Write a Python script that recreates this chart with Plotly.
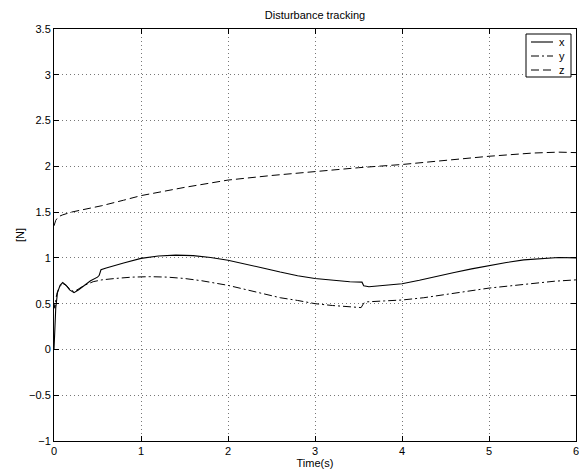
import plotly.graph_objects as go

# ---- data ----
t_x = [0, 0.01, 0.02, 0.04, 0.07, 0.1, 0.14, 0.18, 0.23, 0.28, 0.35, 0.42, 0.5, 0.52, 0.54,
       0.6, 0.8, 1.0, 1.2, 1.4, 1.6, 1.8, 2.0, 2.2, 2.4, 2.6, 2.8, 3.0, 3.2, 3.4, 3.54,
       3.56, 3.62, 3.8, 4.0, 4.2, 4.4, 4.6, 4.8, 5.0, 5.2, 5.4, 5.6, 5.8, 6.0]
x_vals = [0.0, 0.2, 0.45, 0.62, 0.7, 0.73, 0.7, 0.65, 0.62, 0.65, 0.7, 0.75, 0.79, 0.81, 0.87,
          0.89, 0.945, 0.995, 1.02, 1.03, 1.025, 1.005, 0.975, 0.935, 0.89, 0.845, 0.805, 0.775, 0.755, 0.74, 0.735,
          0.695, 0.685, 0.7, 0.717, 0.755, 0.8, 0.84, 0.88, 0.917, 0.95, 0.978, 0.995, 1.005, 1.0]

t_y = [0, 0.01, 0.03, 0.06, 0.1, 0.14, 0.18, 0.23, 0.28, 0.35, 0.45, 0.55, 0.7, 0.9, 1.1, 1.3,
       1.5, 1.7, 2.0, 2.3, 2.6, 2.8, 3.0, 3.2, 3.4, 3.53, 3.56, 3.6, 3.8, 4.0, 4.25, 4.5,
       4.75, 5.0, 5.25, 5.5, 5.75, 6.0]
y_vals = [0.5, 0.45, 0.6, 0.68, 0.72, 0.7, 0.66, 0.63, 0.66, 0.7, 0.74, 0.76, 0.775, 0.79, 0.795, 0.79,
          0.775, 0.75, 0.7, 0.63, 0.565, 0.535, 0.5, 0.48, 0.465, 0.457, 0.505, 0.52, 0.53, 0.54, 0.565, 0.6,
          0.635, 0.67, 0.695, 0.72, 0.745, 0.76]

t_z = [0, 0.02, 0.05, 0.1, 0.2, 0.35, 0.55, 0.8, 1.0, 1.5, 2.0, 2.5, 3.0, 3.5, 4.0, 4.5,
       5.0, 5.5, 5.8, 6.0]
z_vals = [1.35, 1.41, 1.45, 1.47, 1.5, 1.53, 1.57, 1.63, 1.68, 1.77, 1.85, 1.9, 1.945, 1.985, 2.02, 2.065,
          2.11, 2.145, 2.155, 2.15]

series_names = ["x", "y", "z"]

x_ticks = [0, 1, 2, 3, 4, 5, 6]
y_ticks = [-1, -0.5, 0, 0.5, 1, 1.5, 2, 2.5, 3, 3.5]
y_tick_text = ["\u22121", "\u22120.5", "0", "0.5", "1", "1.5", "2", "2.5", "3", "3.5"]

FONT = "Liberation Sans, Arial, Helvetica, sans-serif"
W, H = 579, 473
ML, MR, MT, MB = 54, 3, 29, 32
PW, PH = W - ML - MR, H - MT - MB

dashes = ["solid", "8px,3px,2px,3px", "8px,4px"]
widths = [1.1, 1, 1]

fig = go.Figure()
for t, v, name, d, w in zip([t_x, t_y, t_z], [x_vals, y_vals, z_vals], series_names, dashes, widths):
    fig.add_trace(go.Scatter(x=t, y=v, mode="lines", name=name, showlegend=False,
                             line=dict(color="black", width=w, dash=d)))

axis_common = dict(
    showline=True, linecolor="black", linewidth=1, mirror="ticks",
    ticks="inside", ticklen=5, tickcolor="black", tickwidth=1,
    showgrid=True, gridcolor="#777777", gridwidth=1, griddash="1px,3px",
    zeroline=False, tickfont=dict(family=FONT, size=11, color="black"),
    ticklabeloverflow="allow",
)


def px_x(p):
    return (p - ML) / PW


def px_y(p):
    return (H - MB - p) / PH


# MATLAB-style legend box (pixel layout converted to paper coords)
shapes = [dict(type="rect", xref="paper", yref="paper",
               x0=px_x(526), x1=px_x(571), y0=px_y(77), y1=px_y(34),
               line=dict(color="black", width=1), fillcolor="white", layer="above")]
annotations = []
row_y = [42, 56, 70]
for name, d, w, ry in zip(series_names, dashes, widths, row_y):
    shapes.append(dict(type="line", xref="paper", yref="paper",
                       x0=px_x(531), x1=px_x(553), y0=px_y(ry), y1=px_y(ry),
                       line=dict(color="black", width=w, dash=d), layer="above"))
    annotations.append(dict(text=name, xref="paper", yref="paper",
                            x=px_x(562), y=px_y(ry), xanchor="center", yanchor="middle",
                            showarrow=False, font=dict(family=FONT, size=11, color="black")))

fig.update_layout(
    width=W, height=H,
    margin=dict(l=ML, r=MR, t=MT, b=MB, autoexpand=False),
    paper_bgcolor="white", plot_bgcolor="white",
    font=dict(family=FONT, size=11, color="black"),
    title=dict(text="Disturbance tracking", x=315 / W, xref="container", xanchor="center",
               y=1 - 15 / H, yref="container", yanchor="middle",
               font=dict(family=FONT, size=11, color="black")),
    xaxis=dict(range=[0, 6], tickvals=x_ticks, ticktext=[str(v) for v in x_ticks],
               title=dict(text="Time(s)", standoff=1, font=dict(family=FONT, size=11)),
               **axis_common),
    yaxis=dict(range=[-1, 3.5], tickvals=y_ticks, ticktext=y_tick_text,
               title=dict(text="[N]", standoff=2, font=dict(family=FONT, size=11)),
               **axis_common),
    showlegend=False,
    shapes=shapes,
    annotations=annotations,
)

fig.write_html("out.html", config={"displayModeBar": False},
               post_script="document.body.style.margin='0px';")
